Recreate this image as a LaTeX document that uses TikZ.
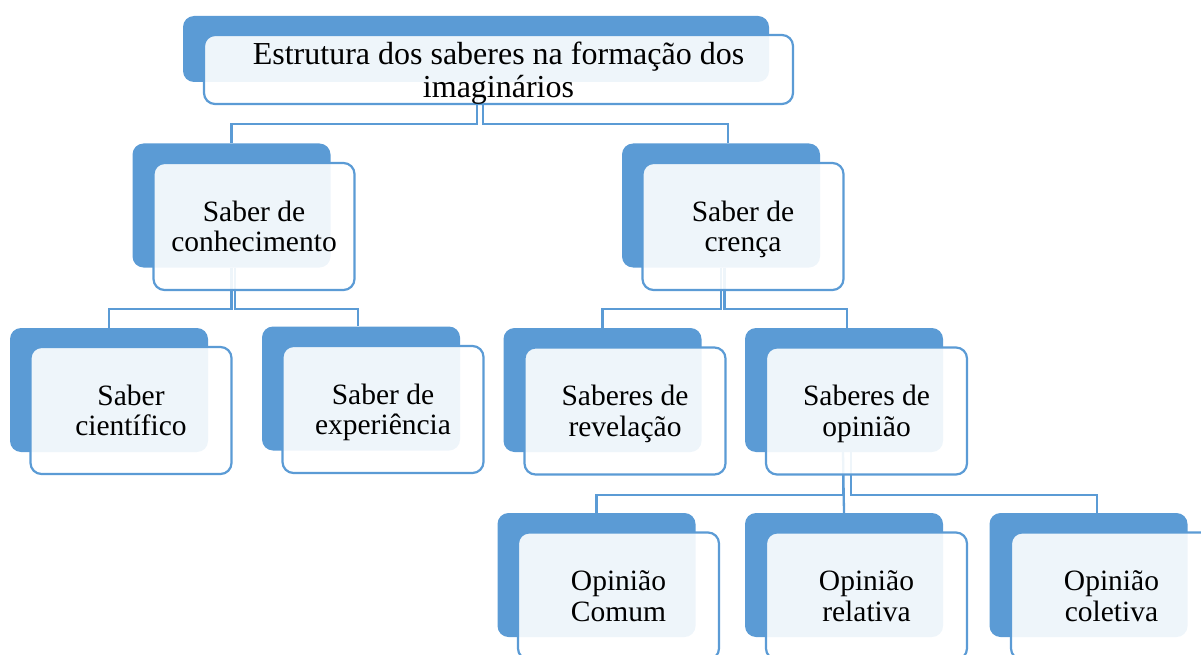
\documentclass[tikz,border=0pt]{standalone}
\usepackage{fontspec}
\setmainfont{Liberation Serif}
\definecolor{smblue}{HTML}{5B9BD5}
\tikzset{
  backbox/.style={fill=smblue, rounded corners=11pt, minimum width=198pt, minimum height=124pt, inner sep=0pt},
  frontbox/.style={draw=smblue, line width=2.2pt, fill=white, fill opacity=0.9, text opacity=1,
    rounded corners=11pt, minimum width=201pt, minimum height=127pt, inner sep=0pt, align=center,
    text depth=0pt, font=\fontsize{29.5}{30.5}\selectfont},
  link/.style={draw=smblue, line width=2.3pt},
}
\begin{document}
\begin{tikzpicture}[x=1pt, y=-1pt]
\useasboundingbox (0,0) rectangle (1201,655);
\clip (0,0) rectangle (1201,655);
% back boxes
\node[backbox, minimum width=586pt, minimum height=66pt] (topB) at (476,49){};
\node[backbox] (conhB) at (231.5,205.5){};
\node[backbox] (crenB) at (721,205.5){};
\node[backbox] (cienB) at (109,390){};
\node[backbox] (expB) at (361,388.5){};
\node[backbox] (revB) at (602.5,390){};
\node[backbox] (opinB) at (844,390){};
\node[backbox] (comB) at (596.5,575){};
\node[backbox] (relB) at (844,575){};
\node[backbox] (colB) at (1088.5,575){};
% connectors
\draw[link] ([xshift=1pt]topB.south) -- ++(0,42) -| (conhB.north);
\draw[link] ([xshift=7pt]topB.south) -- ++(0,42) -| ([xshift=7pt]crenB.north);
\draw[link] (conhB.south) -- ++(0,41) -| (cienB.north);
\draw[link] ([xshift=3.5pt]conhB.south) -- ++(0,41) -| ([xshift=-3pt]expB.north);
\draw[link] (crenB.south) -- ++(0,41) -| (revB.north);
\draw[link] ([xshift=3.5pt]crenB.south) -- ++(0,41) -| ([xshift=3pt]opinB.north);
\draw[link] ([xshift=-1pt]opinB.south) -- ++(0,43) -| (comB.north);
\draw[link] ([xshift=-1pt]opinB.south) -- (relB.north);
\draw[link] ([xshift=7pt]opinB.south) -- ++(0,43) -| ([xshift=8.5pt]colB.north);
% front boxes
\node[frontbox, minimum width=589pt, minimum height=69pt, font=\fontsize{32}{32.5}\selectfont] (top) at (498.5,69.5){Estrutura dos saberes na formação dos\\imaginários};
\node[frontbox] (conh) at (254,226.5){Saber de\\conhecimento};
\node[frontbox] (cren) at (743,226.5){Saber de\\crença};
\node[frontbox] (cien) at (131,410.5){Saber\\científico};
\node[frontbox] (exp) at (383,409.5){Saber de\\experiência};
\node[frontbox] (rev) at (625,411){Saberes de\\revelação};
\node[frontbox] (opin) at (866.5,411){Saberes de\\opinião};
\node[frontbox] (com) at (618.5,596){Opinião\\Comum};
\node[frontbox] (rel) at (866.5,596){Opinião\\relativa};
\node[frontbox] (col) at (1111.5,596){Opinião\\coletiva};
\end{tikzpicture}
\end{document}
